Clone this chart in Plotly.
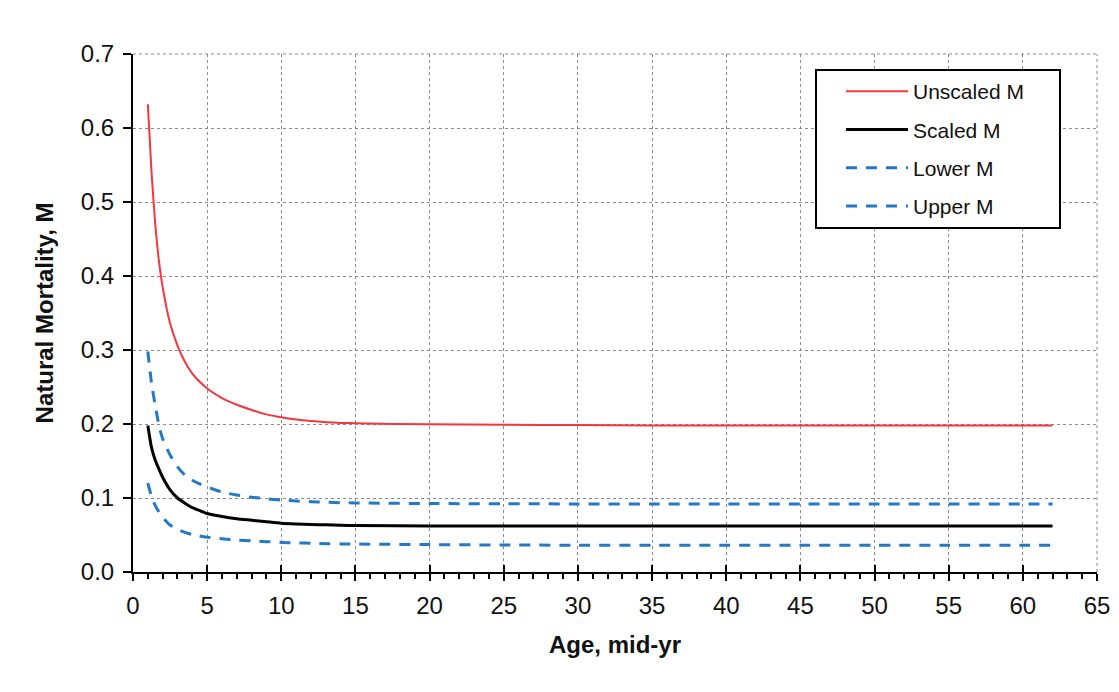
import plotly.graph_objects as go

ages = [1, 1.25, 1.5, 1.75, 2, 2.5, 3, 3.5, 4, 4.5, 5, 6, 7, 8, 9, 10, 11, 12, 13, 14, 15,
        20, 25, 30, 35, 40, 45, 50, 55, 60, 62]
unscaled_m = [0.632, 0.54, 0.47, 0.42, 0.385, 0.336, 0.306, 0.284, 0.268, 0.257, 0.248, 0.235, 0.226,
              0.219, 0.213, 0.209, 0.206, 0.204, 0.2025, 0.2015, 0.201,
              0.1995, 0.199, 0.1985, 0.198, 0.198, 0.198, 0.198, 0.198, 0.198, 0.198]
scaled_m = [0.198, 0.168, 0.151, 0.139, 0.128, 0.111, 0.100, 0.093, 0.087, 0.083, 0.079, 0.075, 0.072,
            0.070, 0.068, 0.066, 0.065, 0.0643, 0.0637, 0.0632, 0.0628,
            0.0622, 0.062, 0.062, 0.062, 0.062, 0.062, 0.062, 0.062, 0.062, 0.062]
lower_m = [0.120, 0.102, 0.090, 0.081, 0.074, 0.0635, 0.0575, 0.0535, 0.0505, 0.0486, 0.047, 0.0448, 0.0432,
           0.042, 0.041, 0.040, 0.0393, 0.0388, 0.0383, 0.038, 0.0378,
           0.037, 0.0365, 0.0362, 0.036, 0.036, 0.036, 0.036, 0.036, 0.036, 0.036]
upper_m = [0.298, 0.255, 0.225, 0.198, 0.180, 0.158, 0.142, 0.131, 0.124, 0.119, 0.115, 0.108, 0.104,
           0.101, 0.099, 0.097, 0.096, 0.095, 0.0943, 0.0937, 0.0933,
           0.0925, 0.0922, 0.092, 0.092, 0.092, 0.092, 0.092, 0.092, 0.092, 0.092]

series_names = ["Unscaled M", "Scaled M", "Lower M", "Upper M"]
x_title = "Age, mid-yr"
y_title = "Natural Mortality, M"

FONT = "Liberation Sans, Arial, sans-serif"
BLUE = "#2479C6"
TXT = "#111111"
PAD = "\u00a0" * 5  # widens the legend box to match the reference

fig = go.Figure()
fig.add_trace(go.Scatter(x=ages, y=unscaled_m, name=series_names[0] + PAD, mode="lines", legendgroup="a",
                         line=dict(color="#F4363F", width=2, shape="spline", smoothing=0.6)))
fig.add_trace(go.Scatter(x=ages, y=scaled_m, name=series_names[1], mode="lines", legendgroup="b",
                         line=dict(color="#000000", width=3, shape="spline", smoothing=0.6)))
fig.add_trace(go.Scatter(x=ages, y=lower_m, name=series_names[2], mode="lines", legendgroup="c",
                         line=dict(color=BLUE, width=3, dash="11px,9px", shape="spline", smoothing=0.6)))
fig.add_trace(go.Scatter(x=ages, y=upper_m, name=series_names[3], mode="lines", legendgroup="d",
                         line=dict(color=BLUE, width=3, dash="11px,9px", shape="spline", smoothing=0.6)))
# invisible helper trace to activate the overlay axis for inward tick marks
fig.add_trace(go.Scatter(x=ages, y=scaled_m, xaxis="x2", mode="lines", showlegend=False,
                         hoverinfo="skip", line=dict(color="rgba(0,0,0,0)", width=0)))

fig.update_layout(
    width=1103, height=676,
    margin=dict(l=125, r=14, t=46, b=112),
    paper_bgcolor="white", plot_bgcolor="white",
    font=dict(family=FONT, size=24, color=TXT),
    showlegend=True,
    legend=dict(x=0.7075, y=0.971, xanchor="left", yanchor="top",
                bordercolor="#000000", borderwidth=2, bgcolor="white",
                font=dict(family=FONT, size=21, color=TXT),
                tracegroupgap=8, itemwidth=62, indentation=24),
    xaxis=dict(range=[0, 65], tickmode="linear", tick0=0, dtick=5, automargin=False,
               showline=True, linecolor="#000000", linewidth=2,
               ticks="outside", ticklen=7, tickwidth=2, tickcolor="#000000",
               ticklabelstandoff=4,
               minor=dict(ticks="outside", ticklen=5, tickwidth=1.5, tickcolor="#000000",
                          dtick=1, showgrid=False),
               showgrid=True, gridcolor="#8a8a8a", gridwidth=1, griddash="dot",
               zeroline=False,
               title=dict(text="<b>" + x_title + "</b>", standoff=18,
                          font=dict(family=FONT, size=24, color=TXT))),
    xaxis2=dict(range=[0, 65], overlaying="x", side="bottom", anchor="y", automargin=False,
                tickmode="linear", tick0=0, dtick=5,
                ticks="inside", ticklen=7, tickwidth=2, tickcolor="#000000",
                showticklabels=False, showgrid=False, showline=False, zeroline=False),
    yaxis=dict(range=[0, 0.7], tickmode="linear", tick0=0, dtick=0.1, tickformat=".1f",
               automargin=False,
               showline=True, linecolor="#000000", linewidth=2,
               ticks="outside", ticklen=8, tickwidth=2, tickcolor="#000000",
               ticklabelstandoff=4,
               showgrid=True, gridcolor="#8a8a8a", gridwidth=1, griddash="dot",
               zeroline=False,
               title=dict(text="<b>" + y_title + "</b>", standoff=20,
                          font=dict(family=FONT, size=24, color=TXT))),
    shapes=[
        dict(type="line", xref="paper", yref="paper", x0=0, x1=1, y0=1, y1=1,
             line=dict(color="#8a8a8a", width=1, dash="dot"), layer="below"),
        dict(type="line", xref="paper", yref="paper", x0=1, x1=1, y0=0, y1=1,
             line=dict(color="#8a8a8a", width=1, dash="dot"), layer="below"),
    ],
)

fig.write_html("out.html")
